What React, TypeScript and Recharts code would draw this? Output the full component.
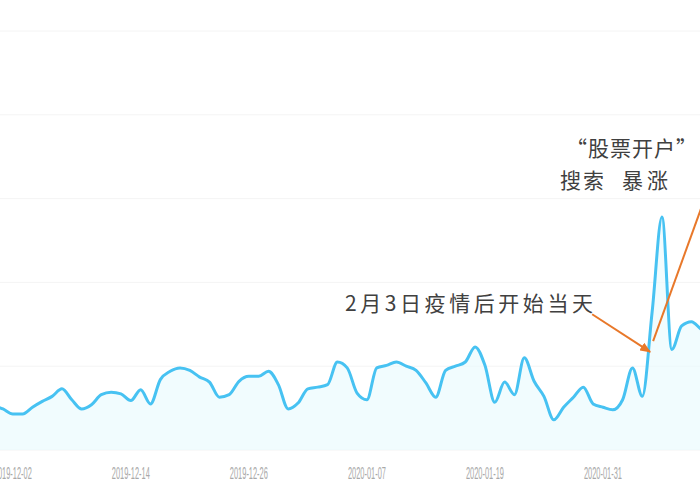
import { Area, CartesianGrid, ComposedChart, ReferenceLine, XAxis, YAxis } from "recharts";

// search index, one value per day, first entry is 2019-11-30 (day -2 from 12-02)
const firstDay = -2;
const searchIndex = [
  0.53, 0.49, 0.43, 0.43, 0.51, 0.58, 0.64, 0.73, 0.6, 0.49,
  0.54, 0.66, 0.69, 0.67, 0.59, 0.72, 0.55, 0.84, 0.94, 0.98,
  0.95, 0.87, 0.81, 0.63, 0.66, 0.82, 0.88, 0.88, 0.94, 0.78,
  0.49, 0.56, 0.73, 0.75, 0.78, 1.05, 0.98, 0.68, 0.6, 0.98,
  1.01, 1.05, 1.0, 0.95, 0.8, 0.63, 0.95, 1.0, 1.05, 1.23,
  1.01, 0.57, 0.81, 0.66, 1.1, 0.82, 0.64, 0.36, 0.51, 0.63,
  0.75, 0.55, 0.51, 0.48, 0.6, 0.98, 0.64, 1.65, 2.78, 1.2,
  1.48, 1.53, 1.44, 1.4,
];

const tickDays = [0, 12, 24, 36, 48, 60];
const tickLabels = ["2019-12-02", "2019-12-14", "2019-12-26", "2020-01-07", "2020-01-19", "2020-01-31"];
const gridTicks = [0, 1, 2, 3, 4, 5];

// annotation arrows, in data units (day, index)
const outbreakArrow = [
  { x: 58.9, y: 1.62 },
  { x: 64.8, y: 1.17 },
];
const surgeArrow = [
  { x: 65.1, y: 1.3 },
  { x: 71.6, y: 3.41 },
];

const data = searchIndex.map((v, i) => ({ day: i + firstDay, value: v }));

const ORANGE = "#e8782a";
const LINE = "#47c2f2";

function DateTick({ x, y, payload }: any) {
  const idx = tickDays.indexOf(payload.value);
  return (
    <text
      x={x}
      y={y + 29}
      textAnchor="middle"
      fill="#a9a9a9"
      fontSize={17}
      fontFamily="Liberation Sans, sans-serif"
      textLength={38}
      lengthAdjust="spacingAndGlyphs"
    >
      {idx >= 0 ? tickLabels[idx] : ""}
    </text>
  );
}

export default function App() {
  const cjk = "'Noto Sans CJK SC', sans-serif";
  return (
    <div
      style={{
        position: "absolute",
        top: 0,
        left: 0,
        width: 700,
        height: 500,
        overflow: "hidden",
        background: "#fff",
      }}
    >
      <svg width={0} height={0} style={{ position: "absolute" }}>
        <defs>
          <marker
            id="arrowHead"
            markerWidth={11}
            markerHeight={9}
            refX={10}
            refY={4.5}
            orient="auto"
            markerUnits="userSpaceOnUse"
          >
            <path d="M0,0 L11,4.5 L0,9 z" fill={ORANGE} />
          </marker>
        </defs>
      </svg>
      <ComposedChart
        width={730}
        height={500}
        data={data}
        margin={{ top: 31, right: 9, left: 0, bottom: 20 }}
      >
        <CartesianGrid vertical={false} stroke="#f4f4f4" />
        <XAxis
          dataKey="day"
          type="number"
          domain={[-1.3, 72]}
          allowDataOverflow
          ticks={tickDays}
          interval={0}
          axisLine={false}
          tickLine={false}
          tickSize={0}
          tickMargin={0}
          height={30}
          tick={<DateTick />}
        />
        <YAxis hide domain={[0, 5]} ticks={gridTicks} />
        <Area
          type="monotone"
          dataKey="value"
          stroke={LINE}
          strokeWidth={3}
          fill="#e8fafe"
          fillOpacity={0.6}
          dot={false}
          activeDot={false}
          isAnimationActive={false}
        />
        <ReferenceLine
          segment={outbreakArrow}
          stroke={ORANGE}
          strokeWidth={2}
          markerEnd="url(#arrowHead)"
        />
        <ReferenceLine segment={surgeArrow} stroke={ORANGE} strokeWidth={2} />
      </ComposedChart>
      <svg
        width={700}
        height={500}
        style={{ position: "absolute", top: 0, left: 0, pointerEvents: "none" }}
      >
        <g fill="#404040" fontFamily={cjk} fontSize={21}>
          <text x={345} y={311} textLength={248} lengthAdjust="spacing">
            2月3日疫情后开始当天
          </text>
          <text x={566} y={156} textLength={131} lengthAdjust="spacing">
            “股票开户”
          </text>
          <text x={560} y={188} textLength={44} lengthAdjust="spacing">
            搜索
          </text>
          <text x={622} y={188} textLength={46} lengthAdjust="spacing">
            暴涨
          </text>
        </g>
      </svg>
    </div>
  );
}
